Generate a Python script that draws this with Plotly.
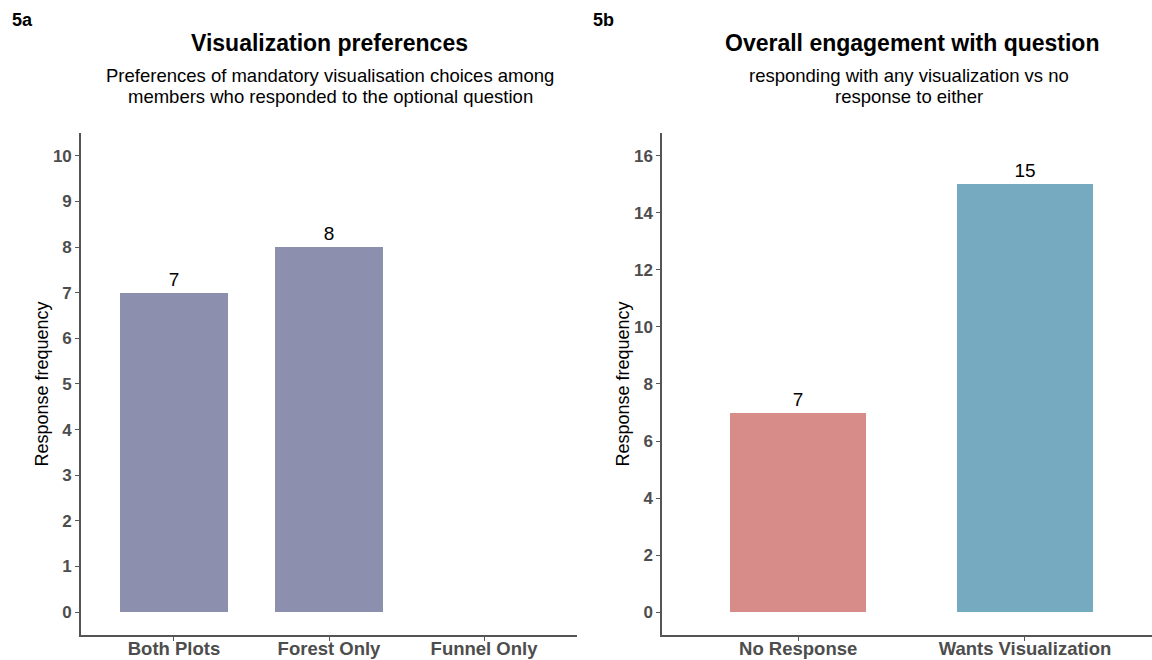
import plotly.graph_objects as go
from plotly.subplots import make_subplots

# 5a data
pref_categories = ['Both Plots', 'Forest Only', 'Funnel Only']
pref_counts     = [7, 8, 0]

# 5b data
engage_categories = ['No Response', 'Wants Visualization']
engage_counts     = [7, 15]
engage_colors     = ['#D88C8A', '#76AAC0']

FONT = 'Liberation Sans, Arial, sans-serif'
AXIS_GREY = '#4D4D4D'

fig = make_subplots(rows=1, cols=2, horizontal_spacing=0.05)

fig.add_trace(go.Bar(
    x            = pref_categories,
    y            = pref_counts,
    width        = 0.7,
    marker       = dict(color='#8C8FAE', line_width=0),
    text         = [str(v) if v else '' for v in pref_counts],
    textposition = 'outside',
    textfont     = dict(size=19, color='black', family=FONT),
    cliponaxis   = False,
    showlegend   = False,
), row=1, col=1)

fig.add_trace(go.Bar(
    x            = engage_categories,
    y            = engage_counts,
    width        = 0.6,
    marker       = dict(color=engage_colors, line_width=0),
    text         = [str(v) for v in engage_counts],
    textposition = 'outside',
    textfont     = dict(size=19, color='black', family=FONT),
    cliponaxis   = False,
    showlegend   = False,
), row=1, col=2)

axis_style = dict(
    showline   = True,
    linecolor  = '#555555',
    linewidth  = 1.5,
    ticks      = 'outside',
    ticklen    = 4,
    tickcolor  = '#555555',
    showgrid   = False,
    zeroline   = False,
    automargin = False,
)

fig.update_xaxes(
    **axis_style,
    ticklabelstandoff = -8,
    tickfont = dict(size=18.5, color=AXIS_GREY, family='Liberation Sans, Arial', weight='bold'),
)
fig.update_yaxes(
    **axis_style,
    tickfont = dict(size=17, color=AXIS_GREY, family='Liberation Sans, Arial', weight='bold'),
)

fig.update_xaxes(domain=[0.0703, 0.5009], range=[-0.6, 2.6], row=1, col=1)
fig.update_xaxes(domain=[0.5747, 1.0], range=[-0.6, 1.56], row=1, col=2)

fig.update_yaxes(
    domain=[0.0379, 0.7985], range=[-0.5, 10.5], dtick=1,
    title=dict(text='Response frequency', font=dict(size=18, color='black', family=FONT), standoff=0),
    row=1, col=1,
)
fig.update_yaxes(
    domain=[0.0379, 0.7985], range=[-0.8, 16.8], dtick=2,
    title=dict(text='Response frequency', font=dict(size=18, color='black', family=FONT), standoff=0),
    row=1, col=2,
)

# Titles, subtitles and panel tags
texts = [
    ('5a', 22, 20, 18, True),
    ('5b', 603, 20, 18, True),
    ('Visualization preferences', 329, 43, 23, True),
    ('Preferences of mandatory visualisation choices among', 330, 75, 18.5, False),
    ('members who responded to the optional question', 330, 96, 18.5, False),
    ('Overall engagement with question', 912, 43, 23, True),
    ('responding with any visualization vs no', 909, 75, 18.5, False),
    ('response to either', 909, 96, 18.5, False),
]
for text, px_x, px_y, size, bold in texts:
    fig.add_annotation(
        x         = px_x / 1152,
        y         = 1 - px_y / 660,
        xref      = 'paper',
        yref      = 'paper',
        text      = f'<b>{text}</b>' if bold else text,
        showarrow = False,
        xanchor   = 'center',
        yanchor   = 'middle',
        font      = dict(size=size, color='black', family=FONT),
    )

fig.update_layout(
    width         = 1152,
    height        = 660,
    margin        = dict(l=0, r=0, t=0, b=0),
    paper_bgcolor = 'white',
    plot_bgcolor  = 'white',
    bargap        = 0,
    font          = dict(family=FONT),
)

# remove the browser's default body margin so the figure sits at the page corner
fig.write_html(
    'out.html',
    config      = {'displayModeBar': False},
    post_script = "document.body.style.margin='0';",
)
